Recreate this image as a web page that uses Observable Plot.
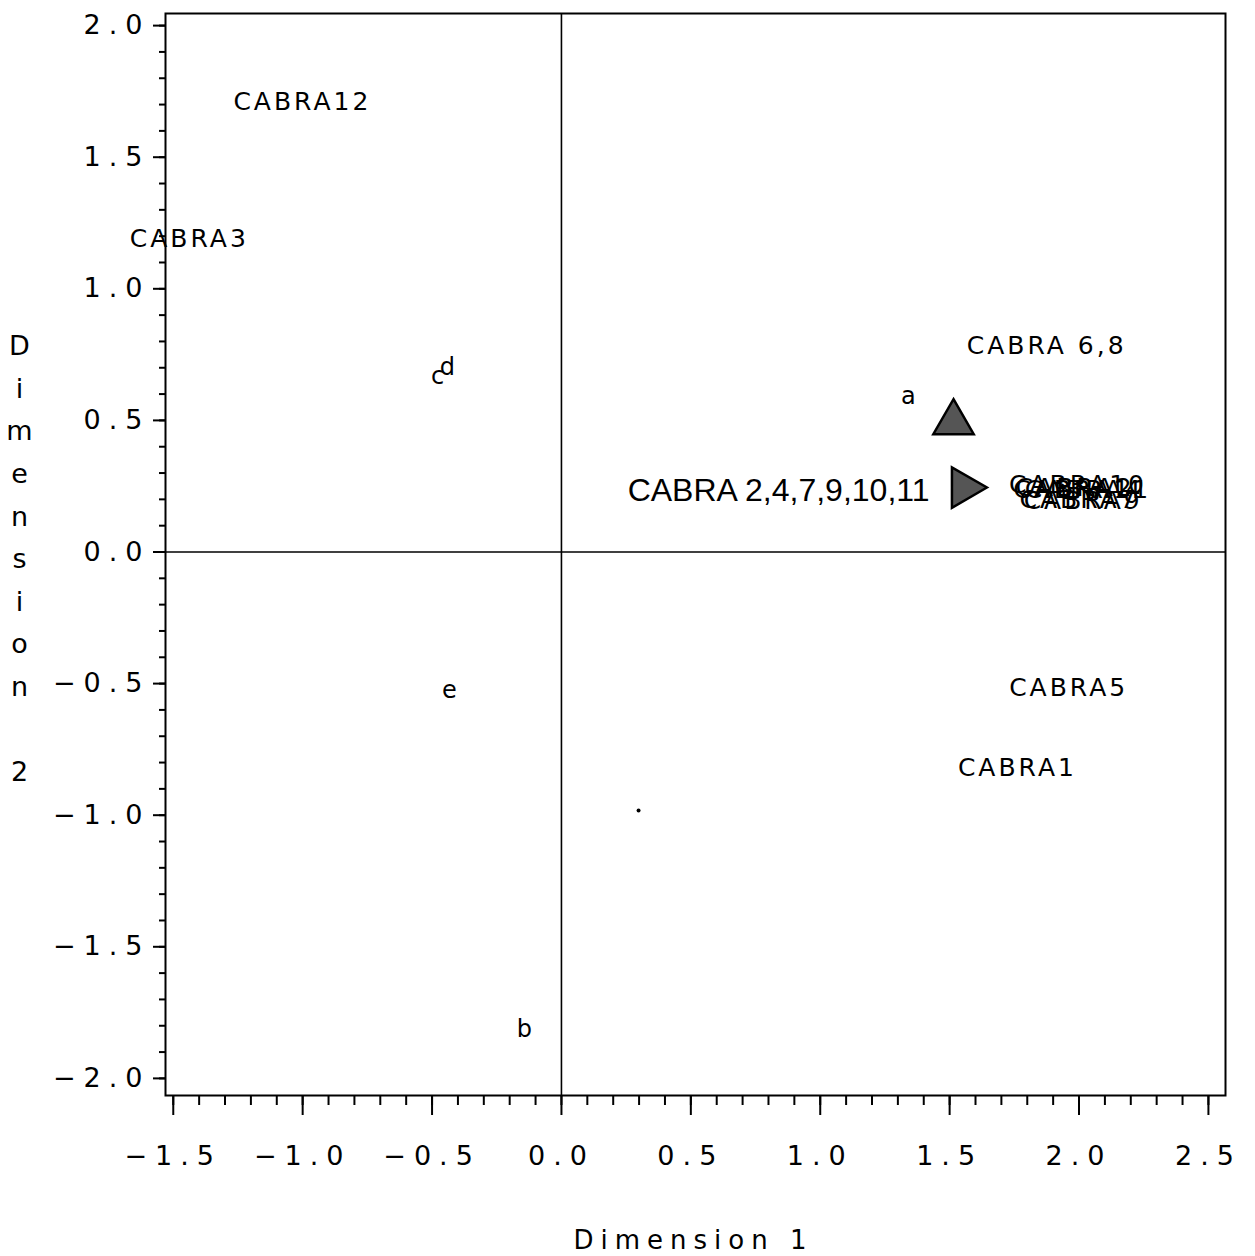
<!DOCTYPE html>
<html>
<head>
<meta charset="utf-8">
<script src="https://cdn.jsdelivr.net/npm/d3@7"></script>
<script src="https://cdn.jsdelivr.net/npm/@observablehq/plot@0.6"></script>
<style>
  body { margin: 0; background: #fff; }
  #chart svg { display: block; }
</style>
</head>
<body>
<div id="chart"></div>
<script>
// ---- data ----
const goatLabels = ["CABRA12", "CABRA3", "CABRA 6,8", "CABRA5", "CABRA1"];
const goatX = [-1.001, -1.438, 1.875, 1.960, 1.762];
const goatY = [1.711, 1.191, 0.784, -0.515, -0.822];

const clusterLabels = ["CABRA10", "CABRA11", "CABRA2", "CABRA4", "CABRA7", "CABRA9"];
const clusterX = [1.996, 2.012, 1.985, 2.020, 2.000, 2.016];
const clusterY = [0.253, 0.237, 0.245, 0.234, 0.196, 0.192];

const letterLabels = ["a", "b", "c", "d", "e"];
const letterX = [1.341, -0.143, -0.479, -0.441, -0.433];
const letterY = [0.591, -1.814, 0.667, 0.701, -0.526];

const groupLabels = ["CABRA 2,4,7,9,10,11"];
const groupX = [0.839];
const groupY = [0.234];

const markerX = [1.515, 1.554];
const markerY = [0.492, 0.245];
const markerRotate = [0, 90];

const pointX = [0.298];
const pointY = [-0.982];

const xTicks = [-1.5, -1.0, -0.5, 0.0, 0.5, 1.0, 1.5, 2.0, 2.5];
const yTicks = [-2.0, -1.5, -1.0, -0.5, 0.0, 0.5, 1.0, 1.5, 2.0];
const xMinorTicks = d3.range(-15, 26).map(d => d / 10);
const yMinorTicks = d3.range(-20, 21).map(d => d / 10);

const xTitle = "Dimension 1";
const yTitle = "D\ni\nm\ne\nn\ns\ni\no\nn\n\n2";

// ---- tables ----
const goats = goatLabels.map((t, i) => ({t, x: goatX[i], y: goatY[i]}));
const cluster = clusterLabels.map((t, i) => ({t, x: clusterX[i], y: clusterY[i]}));
const letters = letterLabels.map((t, i) => ({t, x: letterX[i], y: letterY[i]}));
const groups = groupLabels.map((t, i) => ({t, x: groupX[i], y: groupY[i]}));
const markers = markerX.map((x, i) => ({x, y: markerY[i], r: markerRotate[i]}));
const points = pointX.map((x, i) => ({x, y: pointY[i]}));

const fmt = d3.format(".1f");
const sasFont = "DejaVu Sans";

const chart = Plot.plot({
  width: 1255,
  height: 1256,
  marginLeft: 165,
  marginRight: 30,
  marginTop: 13,
  marginBottom: 161,
  x: {domain: [-1.530, 2.566]},
  y: {domain: [-2.065, 2.046]},
  style: {background: "white", color: "black"},
  marks: [
    Plot.frame({stroke: "black", strokeWidth: 2}),
    Plot.ruleX([0], {stroke: "black", strokeWidth: 1.6}),
    Plot.ruleY([0], {stroke: "black", strokeWidth: 1.6}),
    Plot.axisX(xMinorTicks, {tickSize: 10, tickFormat: () => "", strokeWidth: 2, label: null}),
    Plot.axisX(xTicks, {tickSize: 20, tickPadding: 30, tickFormat: fmt, strokeWidth: 2,
      fontSize: 27, fontFamily: sasFont, label: null}),
    Plot.axisY(yMinorTicks, {tickSize: 6, tickFormat: () => "", strokeWidth: 2, label: null}),
    Plot.axisY(yTicks, {tickSize: 12, tickPadding: 3, tickFormat: fmt, strokeWidth: 2,
      fontSize: 27, fontFamily: sasFont, label: null}),
    Plot.dot(markers, {x: "x", y: "y", rotate: "r", symbol: "triangle", r: 15,
      fill: "#555", stroke: "black", strokeWidth: 2.5}),
    Plot.dot(points, {x: "x", y: "y", r: 2, fill: "black", stroke: "none"}),
    Plot.text(goats, {x: "x", y: "y", text: "t", fontSize: 25, fontFamily: sasFont, fill: "black"}),
    Plot.text(cluster, {x: "x", y: "y", text: "t", fontSize: 25, fontFamily: sasFont, fill: "black"}),
    Plot.text(letters, {x: "x", y: "y", text: "t", fontSize: 24, fontFamily: sasFont, fill: "black"}),
    Plot.text(groups, {x: "x", y: "y", text: "t", fontSize: 32, fontFamily: "Liberation Sans", fill: "black"}),
    Plot.text([xTitle], {text: d => d, frameAnchor: "bottom", lineAnchor: "middle",
      dy: 145, dx: -2, fontSize: 26, fontFamily: sasFont}),
    Plot.text([yTitle], {text: d => d, frameAnchor: "left", textAnchor: "middle",
      lineAnchor: "middle", dx: -146, lineHeight: 1.58, fontSize: 27, fontFamily: sasFont})
  ]
});

// SAS-like wide letter spacing
d3.select(chart).selectAll("g").each(function () {
  const fs = parseFloat(this.getAttribute("font-size"));
  if (fs === 25) d3.select(this).selectAll("text").attr("letter-spacing", "3px");
  if (fs === 26) d3.select(this).selectAll("text").attr("letter-spacing", "7px");
});
d3.select(chart).selectAll('g[aria-label*="tick label"] text').attr("letter-spacing", "8px");
document.getElementById("chart").appendChild(chart);
</script>
</body>
</html>
